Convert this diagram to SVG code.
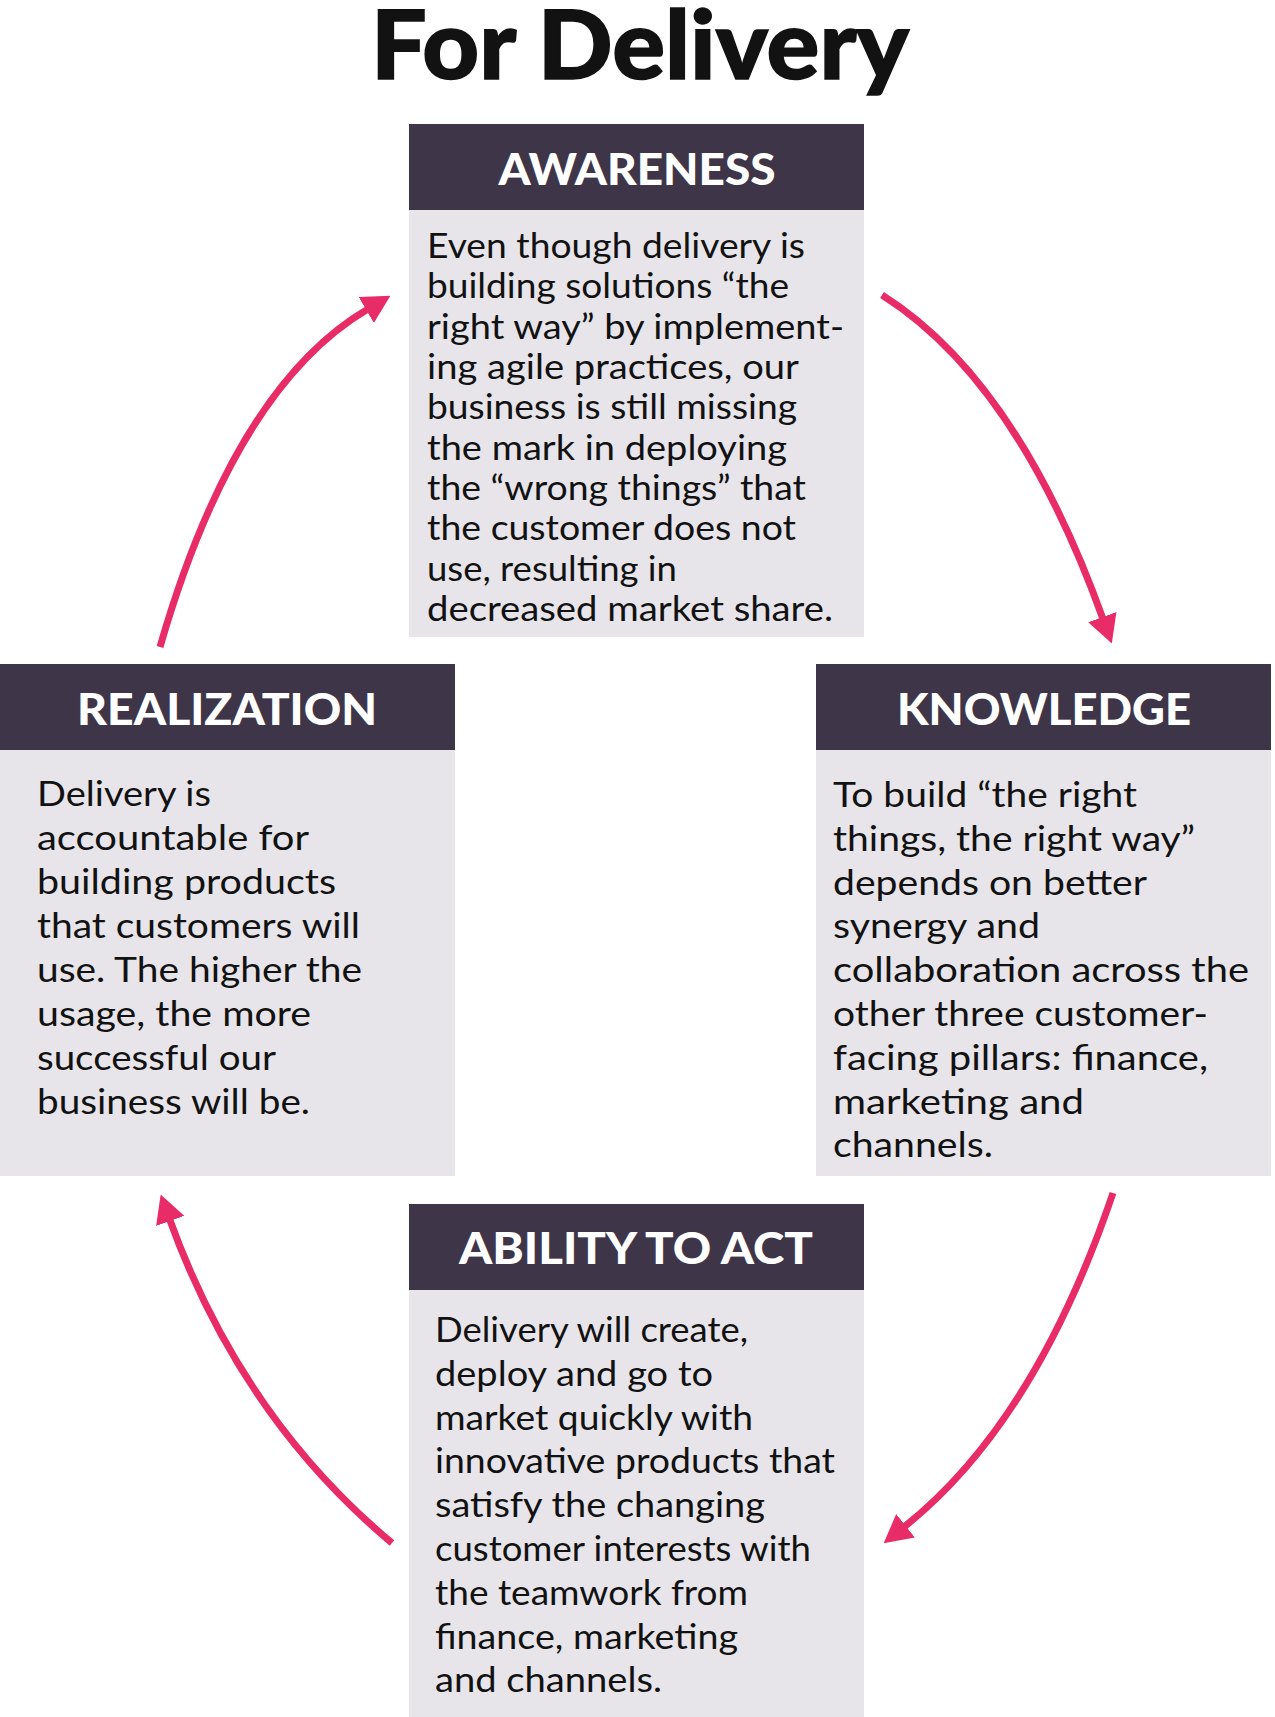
<svg xmlns="http://www.w3.org/2000/svg" width="1275" height="1717" viewBox="0 0 1275 1717">
<style>
.hdr{fill:#3e3549}
.body{fill:#e7e5ea}
.ht{font-family:Lato,"Liberation Sans",sans-serif;font-weight:900;font-size:44px;fill:#ffffff;text-anchor:middle}
.bt{font-family:Lato,"Liberation Sans",sans-serif;font-size:35px;fill:#121212}
.title{font-family:Lato,"Liberation Sans",sans-serif;font-weight:900;font-size:96px;fill:#121212;stroke:#121212;stroke-width:1.5}
.arr{fill:none;stroke:#e82c68;stroke-width:7}
</style>
<defs>
<marker id="ah" markerUnits="userSpaceOnUse" viewBox="0 0 28 30" markerWidth="28" markerHeight="30" refX="2" refY="15" orient="auto">
<path d="M0,0 L28,15 L0,30 Z" fill="#e82c68"/>
</marker>
</defs>
<text class="title" x="371" y="79" textLength="538" lengthAdjust="spacingAndGlyphs">For Delivery</text>
<g id="awareness">
<rect class="hdr" x="409" y="124" width="455" height="86"/>
<rect class="body" x="409" y="210" width="455" height="427"/>
<text class="ht" x="637" y="185" textLength="277" lengthAdjust="spacingAndGlyphs">AWARENESS</text>
<text class="bt" x="427" y="258" textLength="378" lengthAdjust="spacingAndGlyphs">Even though delivery is</text>
<text class="bt" x="427" y="298" textLength="362" lengthAdjust="spacingAndGlyphs">building solutions “the</text>
<text class="bt" x="427" y="339" textLength="417" lengthAdjust="spacingAndGlyphs">right way” by implement-</text>
<text class="bt" x="427" y="379" textLength="372" lengthAdjust="spacingAndGlyphs">ing agile practices, our</text>
<text class="bt" x="427" y="419" textLength="370" lengthAdjust="spacingAndGlyphs">business is still missing</text>
<text class="bt" x="427" y="460" textLength="360" lengthAdjust="spacingAndGlyphs">the mark in deploying</text>
<text class="bt" x="427" y="500" textLength="379" lengthAdjust="spacingAndGlyphs">the “wrong things” that</text>
<text class="bt" x="427" y="540" textLength="369" lengthAdjust="spacingAndGlyphs">the customer does not</text>
<text class="bt" x="427" y="581" textLength="250" lengthAdjust="spacingAndGlyphs">use, resulting in</text>
<text class="bt" x="427" y="621" textLength="406" lengthAdjust="spacingAndGlyphs">decreased market share.</text>
</g>
<g id="knowledge">
<rect class="hdr" x="816" y="664" width="455" height="86"/>
<rect class="body" x="816" y="750" width="455" height="426"/>
<text class="ht" x="1044" y="725" textLength="294" lengthAdjust="spacingAndGlyphs">KNOWLEDGE</text>
<text class="bt" x="833" y="807" textLength="304" lengthAdjust="spacingAndGlyphs">To build “the right</text>
<text class="bt" x="833" y="851" textLength="362" lengthAdjust="spacingAndGlyphs">things, the right way”</text>
<text class="bt" x="833" y="895" textLength="314" lengthAdjust="spacingAndGlyphs">depends on better</text>
<text class="bt" x="833" y="938" textLength="207" lengthAdjust="spacingAndGlyphs">synergy and</text>
<text class="bt" x="833" y="982" textLength="416" lengthAdjust="spacingAndGlyphs">collaboration across the</text>
<text class="bt" x="833" y="1026" textLength="375" lengthAdjust="spacingAndGlyphs">other three customer-</text>
<text class="bt" x="833" y="1070" textLength="375" lengthAdjust="spacingAndGlyphs">facing pillars: finance,</text>
<text class="bt" x="833" y="1114" textLength="251" lengthAdjust="spacingAndGlyphs">marketing and</text>
<text class="bt" x="833" y="1157" textLength="160" lengthAdjust="spacingAndGlyphs">channels.</text>
</g>
<g id="realization">
<rect class="hdr" x="0" y="664" width="455" height="86"/>
<rect class="body" x="0" y="750" width="455" height="426"/>
<text class="ht" x="227" y="725" textLength="300" lengthAdjust="spacingAndGlyphs">REALIZATION</text>
<text class="bt" x="37" y="806" textLength="174" lengthAdjust="spacingAndGlyphs">Delivery is</text>
<text class="bt" x="37" y="850" textLength="272" lengthAdjust="spacingAndGlyphs">accountable for</text>
<text class="bt" x="37" y="894" textLength="299" lengthAdjust="spacingAndGlyphs">building products</text>
<text class="bt" x="37" y="938" textLength="323" lengthAdjust="spacingAndGlyphs">that customers will</text>
<text class="bt" x="37" y="982" textLength="325" lengthAdjust="spacingAndGlyphs">use. The higher the</text>
<text class="bt" x="37" y="1026" textLength="274" lengthAdjust="spacingAndGlyphs">usage, the more</text>
<text class="bt" x="37" y="1070" textLength="239" lengthAdjust="spacingAndGlyphs">successful our</text>
<text class="bt" x="37" y="1114" textLength="273" lengthAdjust="spacingAndGlyphs">business will be.</text>
</g>
<g id="ability">
<rect class="hdr" x="409" y="1204" width="455" height="86"/>
<rect class="body" x="409" y="1290" width="455" height="427"/>
<text class="ht" x="636" y="1264" textLength="354" lengthAdjust="spacingAndGlyphs">ABILITY TO ACT</text>
<text class="bt" x="435" y="1342" textLength="313" lengthAdjust="spacingAndGlyphs">Delivery will create,</text>
<text class="bt" x="435" y="1386" textLength="278" lengthAdjust="spacingAndGlyphs">deploy and go to</text>
<text class="bt" x="435" y="1430" textLength="318" lengthAdjust="spacingAndGlyphs">market quickly with</text>
<text class="bt" x="435" y="1473" textLength="400" lengthAdjust="spacingAndGlyphs">innovative products that</text>
<text class="bt" x="435" y="1517" textLength="330" lengthAdjust="spacingAndGlyphs">satisfy the changing</text>
<text class="bt" x="435" y="1561" textLength="376" lengthAdjust="spacingAndGlyphs">customer interests with</text>
<text class="bt" x="435" y="1605" textLength="313" lengthAdjust="spacingAndGlyphs">the teamwork from</text>
<text class="bt" x="435" y="1649" textLength="303" lengthAdjust="spacingAndGlyphs">finance, marketing</text>
<text class="bt" x="435" y="1692" textLength="227" lengthAdjust="spacingAndGlyphs">and channels.</text>
</g>
<g id="connectors">
<path class="arr" marker-end="url(#ah)" d="M160,647 Q235,387 368,309"/>
<path class="arr" marker-end="url(#ah)" d="M882,295 Q1017,380 1103,619"/>
<path class="arr" marker-end="url(#ah)" d="M1113,1193 Q1035,1423 904,1527"/>
<path class="arr" marker-end="url(#ah)" d="M392,1543 Q241,1417 169.5,1219"/>
</g>
</svg>
